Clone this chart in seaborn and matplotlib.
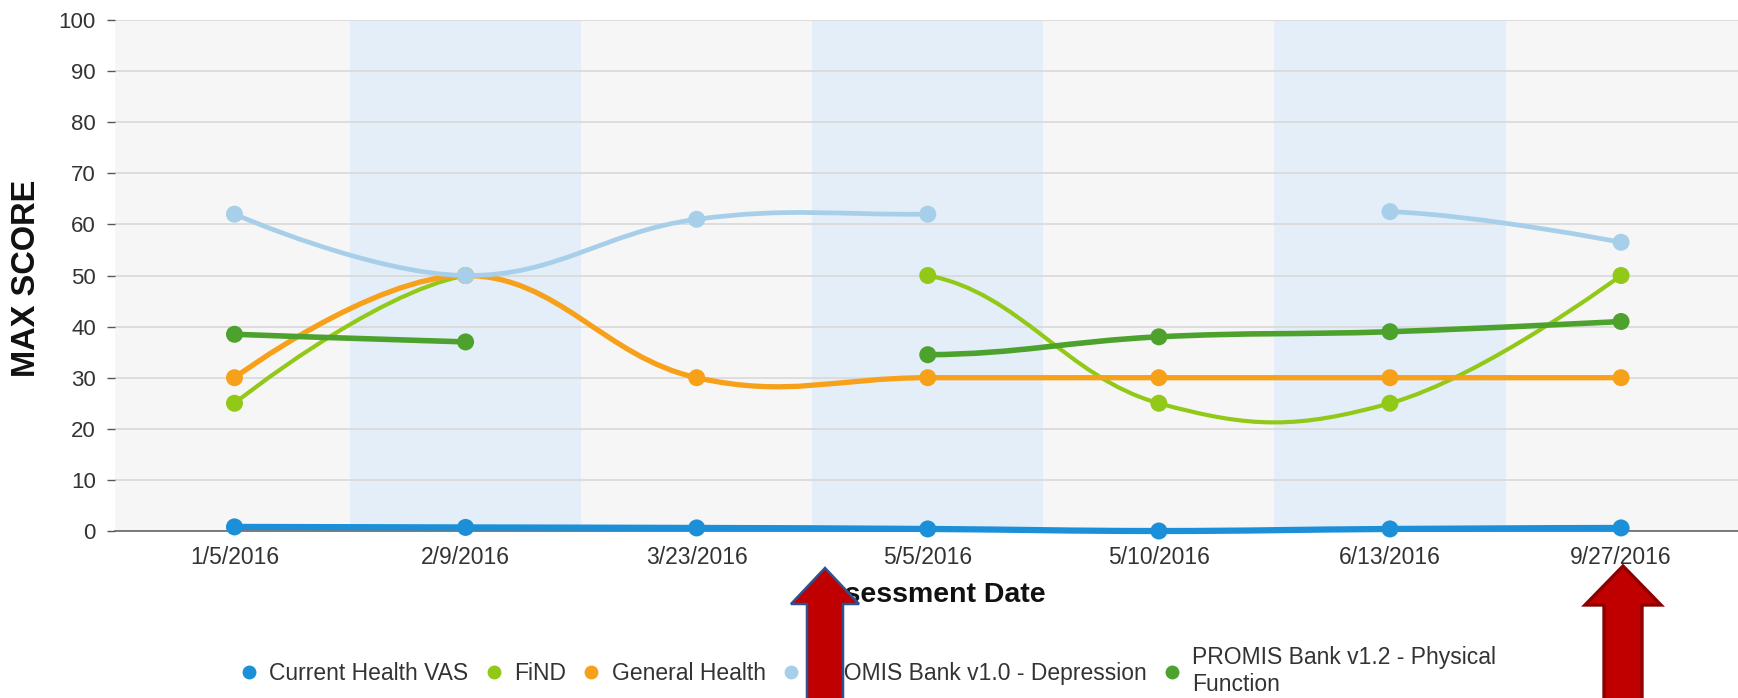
import numpy as np
import pandas as pd
import matplotlib
matplotlib.use("Agg")
import matplotlib.pyplot as plt
import seaborn as sns
from matplotlib.path import Path
from matplotlib.patches import PathPatch, Polygon
from matplotlib.lines import Line2D

# ---------------- data ----------------
dates = ["1/5/2016", "2/9/2016", "3/23/2016", "5/5/2016", "5/10/2016", "6/13/2016", "9/27/2016"]
nan = np.nan
current_health_vas = [0.8, 0.7, 0.6, 0.4, 0.0, 0.4, 0.6]
find_scores = [25, 50, nan, 50, 25, 25, 50]
general_health = [30, 50, 30, 30, 30, 30, 30]
promis_depression = [62, 50, 61, 62, nan, 62.5, 56.5]
promis_physical = [38.5, 37, nan, 34.5, 38, 39, 41]

series_names = ["Current Health VAS", "FiND", "General Health",
                "PROMIS Bank v1.0 - Depression", "PROMIS Bank v1.2 - Physical Function"]
legend_labels = ["Current Health VAS", "FiND", "General Health",
                 "PROMIS Bank v1.0 - Depression", "PROMIS Bank v1.2 - Physical\nFunction"]
series_values = [current_health_vas, find_scores, general_health, promis_depression, promis_physical]
colors = ["#1b8fd8", "#92c918", "#f7a11a", "#a7cfea", "#4ca22c"]
line_widths = [4.5, 3.0, 3.8, 3.4, 4.0]

W, H = 1738, 698
sns.set_theme(style="white")
plt.rcParams['font.family'] = ['Liberation Sans', 'DejaVu Sans']

fig = plt.figure(figsize=(W / 100, H / 100), dpi=100)
fig.patch.set_facecolor("white")
ax = fig.add_axes([115 / W, 1 - 531 / H, 1 - 115 / W, (531 - 20) / H])

xpos = np.arange(len(dates))
ax.set_xlim(-0.517, 6.506)
ax.set_ylim(0, 100)
ax.set_facecolor("#f6f6f6")
for i in range(1, len(dates), 2):
    ax.axvspan(i - 0.5, i + 0.5, color="#e4eef8", zorder=0, lw=0)

ax.set_axisbelow(True)
ax.set_yticks(range(0, 101, 10))
ax.yaxis.grid(True, color="#d6d6d6", lw=1.1)
ax.xaxis.grid(False)
for s in ["top", "right", "left"]:
    ax.spines[s].set_visible(False)
ax.spines["bottom"].set_color("#666666")
ax.spines["bottom"].set_linewidth(1.2)
ax.set_xticks(xpos)
ax.set_xticklabels(dates)
ax.tick_params(axis="x", length=0, pad=11, labelsize=16.5, labelcolor="#333333")
ax.tick_params(axis="y", length=5.8, width=1.0, color="#555555", pad=8,
               labelsize=16, labelcolor="#333333", left=True)


def spline_path(xs, ys):
    ys = np.asarray(ys, dtype=float)
    idx = np.where(~np.isnan(ys))[0]
    ctrl = {}
    sm = 1.5
    den = sm + 1
    for k, i in enumerate(idx):
        px, py = xs[i], ys[i]
        if 0 < k < len(idx) - 1:
            lx, ly = xs[idx[k - 1]], ys[idx[k - 1]]
            nx, ny = xs[idx[k + 1]], ys[idx[k + 1]]
            lcx, lcy = (sm * px + lx) / den, (sm * py + ly) / den
            rcx, rcy = (sm * px + nx) / den, (sm * py + ny) / den
            corr = (rcy - lcy) * (rcx - px) / (rcx - lcx) + py - rcy
            lcy += corr
            rcy += corr
        else:
            lcx, lcy, rcx, rcy = px, py, px, py
        ctrl[i] = (lcx, lcy, rcx, rcy)
    verts, codes = [], []
    for k, i in enumerate(idx):
        if k == 0 or idx[k - 1] != i - 1:
            verts.append((xs[i], ys[i]))
            codes.append(Path.MOVETO)
        else:
            j = idx[k - 1]
            verts += [(ctrl[j][2], ctrl[j][3]), (ctrl[i][0], ctrl[i][1]), (xs[i], ys[i])]
            codes += [Path.CURVE4] * 3
    return Path(verts, codes)


for n, (name, vals, col, lw) in enumerate(zip(series_names, series_values, colors, line_widths)):
    z = 3 + 2 * n
    patch = PathPatch(spline_path(xpos, vals), fill=False, edgecolor=col, lw=lw,
                      capstyle="round", joinstyle="round", zorder=z, clip_on=False)
    ax.add_patch(patch)
    df = pd.DataFrame({"x": xpos, "value": vals, "series": name}).dropna()
    sns.scatterplot(data=df, x="x", y="value", color=col, s=150, edgecolor="none",
                    legend=False, ax=ax, zorder=z + 1, clip_on=False)
ax.set_xlabel("")
ax.set_ylabel("")

fig.text(926.5 / W, 1 - 595 / H, "Assessment Date", ha="center", va="center",
         fontsize=20.5, fontweight="bold", color="#111111")
fig.text(27 / W, 1 - 278 / H, "MAX SCORE", ha="center", va="center", rotation=90,
         fontsize=23.5, fontweight="bold", color="#111111")

handles = [Line2D([], [], marker="o", ls="none", color=c, markersize=10, markeredgewidth=0)
           for c in colors]
fig.legend(handles, legend_labels, loc="center", bbox_to_anchor=(868 / W, 1 - 671 / H),
           ncol=5, frameon=False, fontsize=16.5, handlelength=0.8, handletextpad=0.5,
           columnspacing=0.7, labelcolor="#333333")


def arrow(tip_x, tip_y, head_half, base_y, shaft_half, edge, elw):
    bottom = H + 10
    pts = [(tip_x, tip_y), (tip_x + head_half, base_y), (tip_x + shaft_half, base_y),
           (tip_x + shaft_half, bottom), (tip_x - shaft_half, bottom),
           (tip_x - shaft_half, base_y), (tip_x - head_half, base_y)]
    pts = [(x / W, 1 - y / H) for x, y in pts]
    p = Polygon(pts, closed=True, facecolor="#c00000", edgecolor=edge, lw=elw,
                transform=fig.transFigure, zorder=20, joinstyle="miter")
    fig.add_artist(p)


arrow(825, 568, 34, 604, 18, "#2f528f", 1.8)
arrow(1623, 566, 38, 605, 19, "#8b0000", 2.4)

fig.savefig("out.png", dpi=100, facecolor="white")
